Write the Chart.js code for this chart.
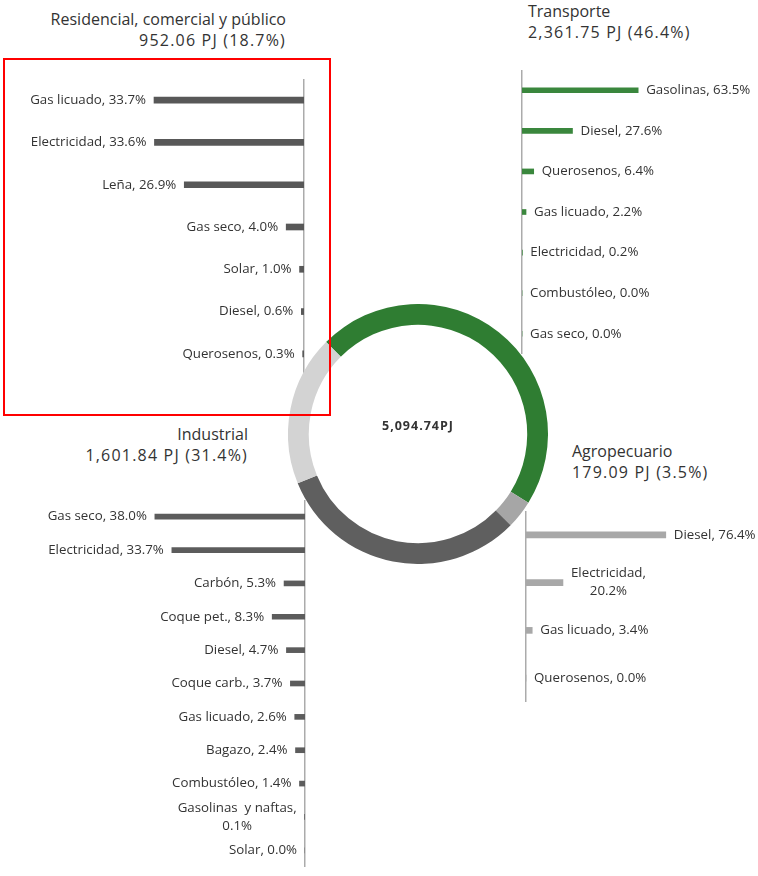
<!DOCTYPE html>
<html>
<head>
<meta charset="utf-8">
<script src="https://cdn.jsdelivr.net/npm/chart.js@4.4.1/dist/chart.umd.min.js"></script>
<style>
  body { margin: 0; background: #fff; width: 758px; height: 876px; position: relative; overflow: hidden; font-family: 'Open Sans', sans-serif; color: #333; }
  canvas { position: absolute; }
  .ttl { position: absolute; font-size: 16px; line-height: 21px; white-space: nowrap; }
  .ttl .num { letter-spacing: 1.2px; }
  .box { position: absolute; left: 3px; top: 58px; width: 328px; height: 358px; border: 2px solid #f00; box-sizing: border-box; z-index: 5; }
</style>
</head>
<body>
<div class="ttl" style="right:472px; top:9px; text-align:right">Residencial, comercial y público<br><span class="num">952.06 PJ (18.7%)</span></div>
<div class="ttl" style="left:528px; top:1px">Transporte<br><span class="num">2,361.75 PJ (46.4%)</span></div>
<div class="ttl" style="right:510px; top:424px; text-align:right">Industrial<br><span class="num">1,601.84 PJ (31.4%)</span></div>
<div class="ttl" style="left:572px; top:441px">Agropecuario<br><span class="num">179.09 PJ (3.5%)</span></div>

<canvas id="resChart" width="306" height="296" style="left:0px; top:79px"></canvas>
<canvas id="indChart" width="307" height="367" style="left:0px; top:500px"></canvas>
<canvas id="traChart" width="238" height="284" style="left:520px; top:70px"></canvas>
<canvas id="agrChart" width="234" height="191" style="left:524px; top:511px"></canvas>
<canvas id="donutChart" width="260" height="260" style="left:288px; top:304px"></canvas>
<div class="box"></div>

<script>
// sectores (PJ)
const sectors = ['Transporte', 'Agropecuario', 'Industrial', 'Residencial, comercial y público'];
const sectorPJ = [2361.75, 179.09, 1601.84, 952.06];
const totalLabel = '5,094.74PJ';

// Residencial, comercial y público (%)
const resFuels = ['Gas licuado', 'Electricidad', 'Leña', 'Gas seco', 'Solar', 'Diesel', 'Querosenos'];
const resValues = [33.7, 33.6, 26.9, 4.0, 1.0, 0.6, 0.3];

// Transporte (%)
const traFuels = ['Gasolinas', 'Diesel', 'Querosenos', 'Gas licuado', 'Electricidad', 'Combustóleo', 'Gas seco'];
const traValues = [63.5, 27.6, 6.4, 2.2, 0.2, 0.0, 0.0];

// Industrial (%)
const indFuels = ['Gas seco', 'Electricidad', 'Carbón', 'Coque pet.', 'Diesel', 'Coque carb.', 'Gas licuado', 'Bagazo', 'Combustóleo', 'Gasolinas  y naftas', 'Solar'];
const indValues = [38.0, 33.7, 5.3, 8.3, 4.7, 3.7, 2.6, 2.4, 1.4, 0.1, 0.0];

// Agropecuario (%)
const agrFuels = ['Diesel', 'Electricidad', 'Gas licuado', 'Querosenos'];
const agrValues = [76.4, 20.2, 3.4, 0.0];

// etiquetas partidas en dos renglones
const wrapped = ['Gasolinas  y naftas', 'Electricidad@agr'];

Chart.defaults.font.family = "'Open Sans', sans-serif";
Chart.defaults.color = '#3a3a3a';

const barLabels = {
  id: 'barLabels',
  afterDatasetsDraw(chart, args, opts) {
    const ctx = chart.ctx;
    const meta = chart.getDatasetMeta(0);
    const left = opts.side === 'left';
    ctx.save();
    ctx.font = "13.3px 'Open Sans', sans-serif";
    ctx.fillStyle = '#333';
    ctx.textBaseline = 'middle';
    meta.data.forEach((bar, i) => {
      const name = chart.data.labels[i];
      const val = chart.data.datasets[0].data[i].toFixed(1) + '%';
      const key = wrapped.includes(name) ? name : name + '@' + opts.tag;
      const gap = 8;
      if (wrapped.includes(key)) {
        const lines = [name + ',', val];
        const w = Math.max(...lines.map(l => ctx.measureText(l).width));
        const cx = left ? bar.x - gap - w / 2 : bar.x + gap + w / 2;
        ctx.textAlign = 'center';
        ctx.fillText(lines[0], cx, bar.y - 9);
        ctx.fillText(lines[1], cx, bar.y + 9);
      } else {
        ctx.textAlign = left ? 'right' : 'left';
        ctx.fillText(name + ', ' + val, left ? bar.x - gap : bar.x + gap, bar.y);
      }
    });
    ctx.restore();
  }
};

function makeBars(id, labels, values, color, maxVal, side, tag, thickness) {
  const left = side === 'left';
  return new Chart(document.getElementById(id), {
    type: 'bar',
    data: {
      labels,
      datasets: [{ data: values, backgroundColor: color, barThickness: thickness, borderWidth: 0 }]
    },
    options: {
      indexAxis: 'y',
      responsive: false,
      animation: false,
      layout: { padding: left ? { right: 2 } : { left: 2 } },
      plugins: {
        legend: { display: false },
        tooltip: { enabled: false },
        barLabels: { side, tag }
      },
      scales: {
        x: { display: false, min: 0, max: maxVal, reverse: left },
        y: {
          position: left ? 'right' : 'left',
          grid: { display: false, drawTicks: false },
          ticks: { display: false },
          border: { display: true, color: '#ababab', width: 1.5 }
        }
      }
    },
    plugins: [barLabels]
  });
}

makeBars('resChart', resFuels, resValues, '#585858', 68.3, 'left', 'res', 6);
makeBars('indChart', indFuels, indValues, '#5c5c5c', 77.2, 'left', 'ind', 5);
makeBars('traChart', traFuels, traValues, '#3a873d', 129, 'right', 'tra', 5);
makeBars('agrChart', agrFuels, agrValues, '#a8a8a8', 126.8, 'right', 'agr', 6);

const centerText = {
  id: 'centerText',
  afterDraw(chart) {
    const ctx = chart.ctx;
    const m = chart.getDatasetMeta(0).data[0];
    ctx.save();
    ctx.font = "bold 12.5px 'Open Sans', sans-serif";
    ctx.letterSpacing = '1px';
    ctx.fillStyle = '#333';
    ctx.textAlign = 'center';
    ctx.textBaseline = 'middle';
    ctx.fillText(totalLabel, m.x, m.y - 8);
    ctx.restore();
  }
};

new Chart(document.getElementById('donutChart'), {
  type: 'doughnut',
  data: {
    labels: sectors,
    datasets: [{
      data: sectorPJ,
      backgroundColor: ['#2f7d32', '#a6a6a6', '#5f5f5f', '#d3d3d3'],
      borderWidth: 0
    }]
  },
  options: {
    responsive: false,
    animation: false,
    rotation: -45,
    cutout: '84%',
    layout: { padding: 0 },
    plugins: { legend: { display: false }, tooltip: { enabled: false } }
  },
  plugins: [centerText]
});
</script>
</body>
</html>
